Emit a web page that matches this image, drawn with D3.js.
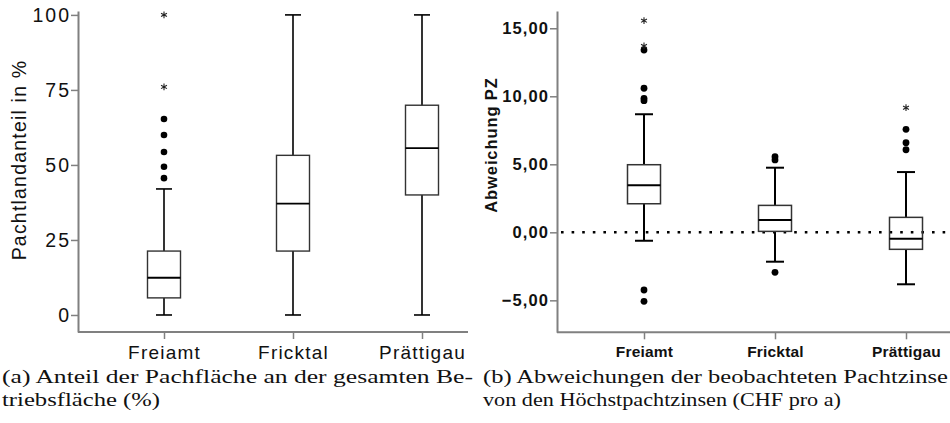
<!DOCTYPE html>
<html><head><meta charset="utf-8">
<script src="https://cdn.jsdelivr.net/npm/d3@7"></script>
<style>
html,body{margin:0;padding:0;background:#fff;}
svg{display:block;}
</style></head>
<body>
<script>
// ---------- data ----------
const categories = ["Freiamt", "Fricktal", "Prättigau"];

// Panel (a): Pachtlandanteil in %  [lowWhisker, Q1, median, Q3, highWhisker]
const shareStats = [
  [0, 5.7, 12.4, 21.3, 42.0],
  [0, 21.3, 37.1, 53.2, 100],
  [0, 40.0, 55.6, 69.9, 100]
];
const shareOutliers = [[45.6, 49.4, 54.3, 60.0, 65.3], [], []];
const shareExtremes = [[76.0, 100], [], []];
const shareTicks = [0, 25, 50, 75, 100];

// Panel (b): Abweichung PZ
const devStats = [
  [-0.62, 2.10, 3.46, 4.97, 8.68],
  [-2.16, 0.07, 0.90, 1.98, 4.75],
  [-3.82, -1.25, -0.47, 1.10, 4.43]
];
const devOutliers = [[-5.07, -4.24, 9.68, 9.85, 10.59, 13.40], [-2.94, 5.32, 5.56], [6.07, 6.59, 7.57]];
const devExtremes = [[13.70, 15.56], [], [9.16]];
const devTicks = [-5, 0, 5, 10, 15];

const captionA = ["(a) Anteil der Pachfläche an der gesamten Be-", "triebsfläche (%)"];
const captionB = ["(b) Abweichungen der beobachteten Pachtzinse", "von den Höchstpachtzinsen (CHF pro a)"];

// ---------- drawing ----------
const W = 950, H = 423;
const svg = d3.select("body").append("svg").attr("width", W).attr("height", H);

function starPath(cx, cy, r) {
  const p = d3.path();
  for (let k = 0; k < 3; k++) {
    const a = Math.PI / 2 + k * Math.PI / 3;
    p.moveTo(cx + r * Math.cos(a), cy + r * Math.sin(a));
    p.lineTo(cx - r * Math.cos(a), cy - r * Math.sin(a));
  }
  return p.toString();
}

function panel(cfg) {
  const g = svg.append("g");
  const y = d3.scaleLinear().domain(cfg.yDomain).range([cfg.bottom, cfg.top]);
  const x = d3.scalePoint().domain(categories).range(cfg.xRange);

  const ya = g.append("g").attr("transform", `translate(${cfg.axisX},0)`)
    .call(d3.axisLeft(y).tickValues(cfg.ticks).tickFormat(cfg.fmt).tickSize(7).tickSizeOuter(0).tickPadding(cfg.yPad));
  ya.select(".domain").attr("stroke", "#808080").attr("stroke-width", 2);
  ya.selectAll(".tick line").attr("stroke", "#808080").attr("stroke-width", 1.5);
  ya.selectAll(".tick text").attr("fill", "#111").style("font-family", "'Liberation Sans', Arial, sans-serif")
    .style("font-size", cfg.tickFont + "px").style("font-weight", cfg.weight)
    .style("letter-spacing", cfg.tickLS + "px");

  g.append("line").attr("x1", cfg.axisX).attr("x2", cfg.xEnd).attr("y1", cfg.bottom).attr("y2", cfg.bottom)
    .attr("stroke", "#808080").attr("stroke-width", 2);
  const xa = g.append("g").attr("transform", `translate(0,${cfg.bottom})`)
    .call(d3.axisBottom(x).tickSize(7).tickSizeOuter(0).tickPadding(cfg.xPad));
  xa.select(".domain").remove();
  xa.selectAll(".tick line").attr("stroke", "#808080").attr("stroke-width", 1.5);
  xa.selectAll(".tick text").attr("fill", "#111").style("font-family", "'Liberation Sans', Arial, sans-serif")
    .style("font-size", cfg.xFont + "px").style("font-weight", cfg.weight)
    .style("letter-spacing", cfg.xLS + "px");

  g.append("text").attr("transform", `translate(${cfg.labelX},${cfg.labelY}) rotate(-90)`)
    .attr("text-anchor", "middle").attr("fill", "#111")
    .style("font-family", "'Liberation Sans', Arial, sans-serif").style("font-size", cfg.labelFont + "px")
    .style("font-weight", cfg.weight).style("letter-spacing", cfg.labelLS + "px")
    .text(cfg.label);

  if (cfg.refLine) {
    g.append("line").attr("x1", cfg.axisX + 4).attr("x2", W).attr("y1", y(0)).attr("y2", y(0))
      .attr("stroke", "#000").attr("stroke-width", 2.6).attr("stroke-dasharray", "2.6,8");
  }

  const bw = cfg.boxW, cw = cfg.capW;
  cfg.stats.forEach((s, i) => {
    const cx = x(categories[i]);
    const bg = g.append("g");
    bg.append("line").attr("x1", cx).attr("x2", cx).attr("y1", y(s[0])).attr("y2", y(s[1]))
      .attr("stroke", "#000").attr("stroke-width", cfg.wW);
    bg.append("line").attr("x1", cx).attr("x2", cx).attr("y1", y(s[3])).attr("y2", y(s[4]))
      .attr("stroke", "#000").attr("stroke-width", cfg.wW);
    [s[0], s[4]].forEach(v => bg.append("line").attr("x1", cx - cw / 2).attr("x2", cx + cw / 2)
      .attr("y1", y(v)).attr("y2", y(v)).attr("stroke", "#000").attr("stroke-width", cfg.wW));
    bg.append("rect").attr("x", cx - bw / 2).attr("width", bw).attr("y", y(s[3])).attr("height", y(s[1]) - y(s[3]))
      .attr("fill", "none").attr("stroke", "#333").attr("stroke-width", cfg.bW);
    bg.append("line").attr("x1", cx - bw / 2).attr("x2", cx + bw / 2).attr("y1", y(s[2])).attr("y2", y(s[2]))
      .attr("stroke", "#000").attr("stroke-width", cfg.mW);
    bg.selectAll("circle.o").data(cfg.outliers[i]).join("circle").attr("class", "o")
      .attr("cx", cx).attr("cy", d => y(d)).attr("r", cfg.dotR).attr("fill", "#000");
    bg.selectAll("path.e").data(cfg.extremes[i]).join("path").attr("class", "e")
      .attr("d", d => starPath(cx, y(d), 3.4)).attr("stroke", "#222").attr("stroke-width", 1.1).attr("fill", "none");
  });
}

panel({
  yDomain: [-5.67, 101.3], top: 11, bottom: 332, axisX: 78, xEnd: 468, xRange: [164, 422],
  ticks: shareTicks, fmt: d3.format("d"), tickFont: 19.5, tickLS: 2, weight: "normal", yPad: 0,
  xFont: 19, xLS: 1.2, xPad: 7,
  label: "Pachtlandanteil in %", labelX: 26, labelY: 160, labelFont: 19.5, labelLS: 1.2,
  stats: shareStats, outliers: shareOutliers, extremes: shareExtremes,
  boxW: 33, capW: 16, wW: 1.6, bW: 1.4, mW: 1.8, dotR: 3.3, refLine: false
});

panel({
  yDomain: [-7.35, 16.27], top: 11, bottom: 332.3, axisX: 557, xEnd: 950, xRange: [644, 906],
  ticks: devTicks, fmt: d => d3.format(".2f")(d).replace(".", ","), tickFont: 16.5, tickLS: 1.1, weight: "bold", yPad: 1,
  xFont: 15.5, xLS: 0.2, xPad: 7,
  label: "Abweichung PZ", labelX: 497, labelY: 145, labelFont: 16.5, labelLS: 0.9,
  stats: devStats, outliers: devOutliers, extremes: devExtremes,
  boxW: 33, capW: 18, wW: 2, bW: 1.5, mW: 2, dotR: 3.4, refLine: true
});

// captions
const capStyle = sel => sel.attr("fill", "#111").style("font-family", "'Liberation Serif', 'Times New Roman', serif")
  .style("font-size", "19px");
svg.append("text").attr("x", 2).attr("y", 383).attr("textLength", 471).attr("lengthAdjust", "spacingAndGlyphs")
  .call(capStyle).text(captionA[0]);
svg.append("text").attr("x", 2).attr("y", 406).attr("textLength", 158).attr("lengthAdjust", "spacingAndGlyphs")
  .call(capStyle).text(captionA[1]);
svg.append("text").attr("x", 483).attr("y", 383).attr("textLength", 465).attr("lengthAdjust", "spacingAndGlyphs")
  .call(capStyle).text(captionB[0]);
svg.append("text").attr("x", 483).attr("y", 406).attr("textLength", 358).attr("lengthAdjust", "spacingAndGlyphs")
  .call(capStyle).text(captionB[1]);
</script>
</body></html>
